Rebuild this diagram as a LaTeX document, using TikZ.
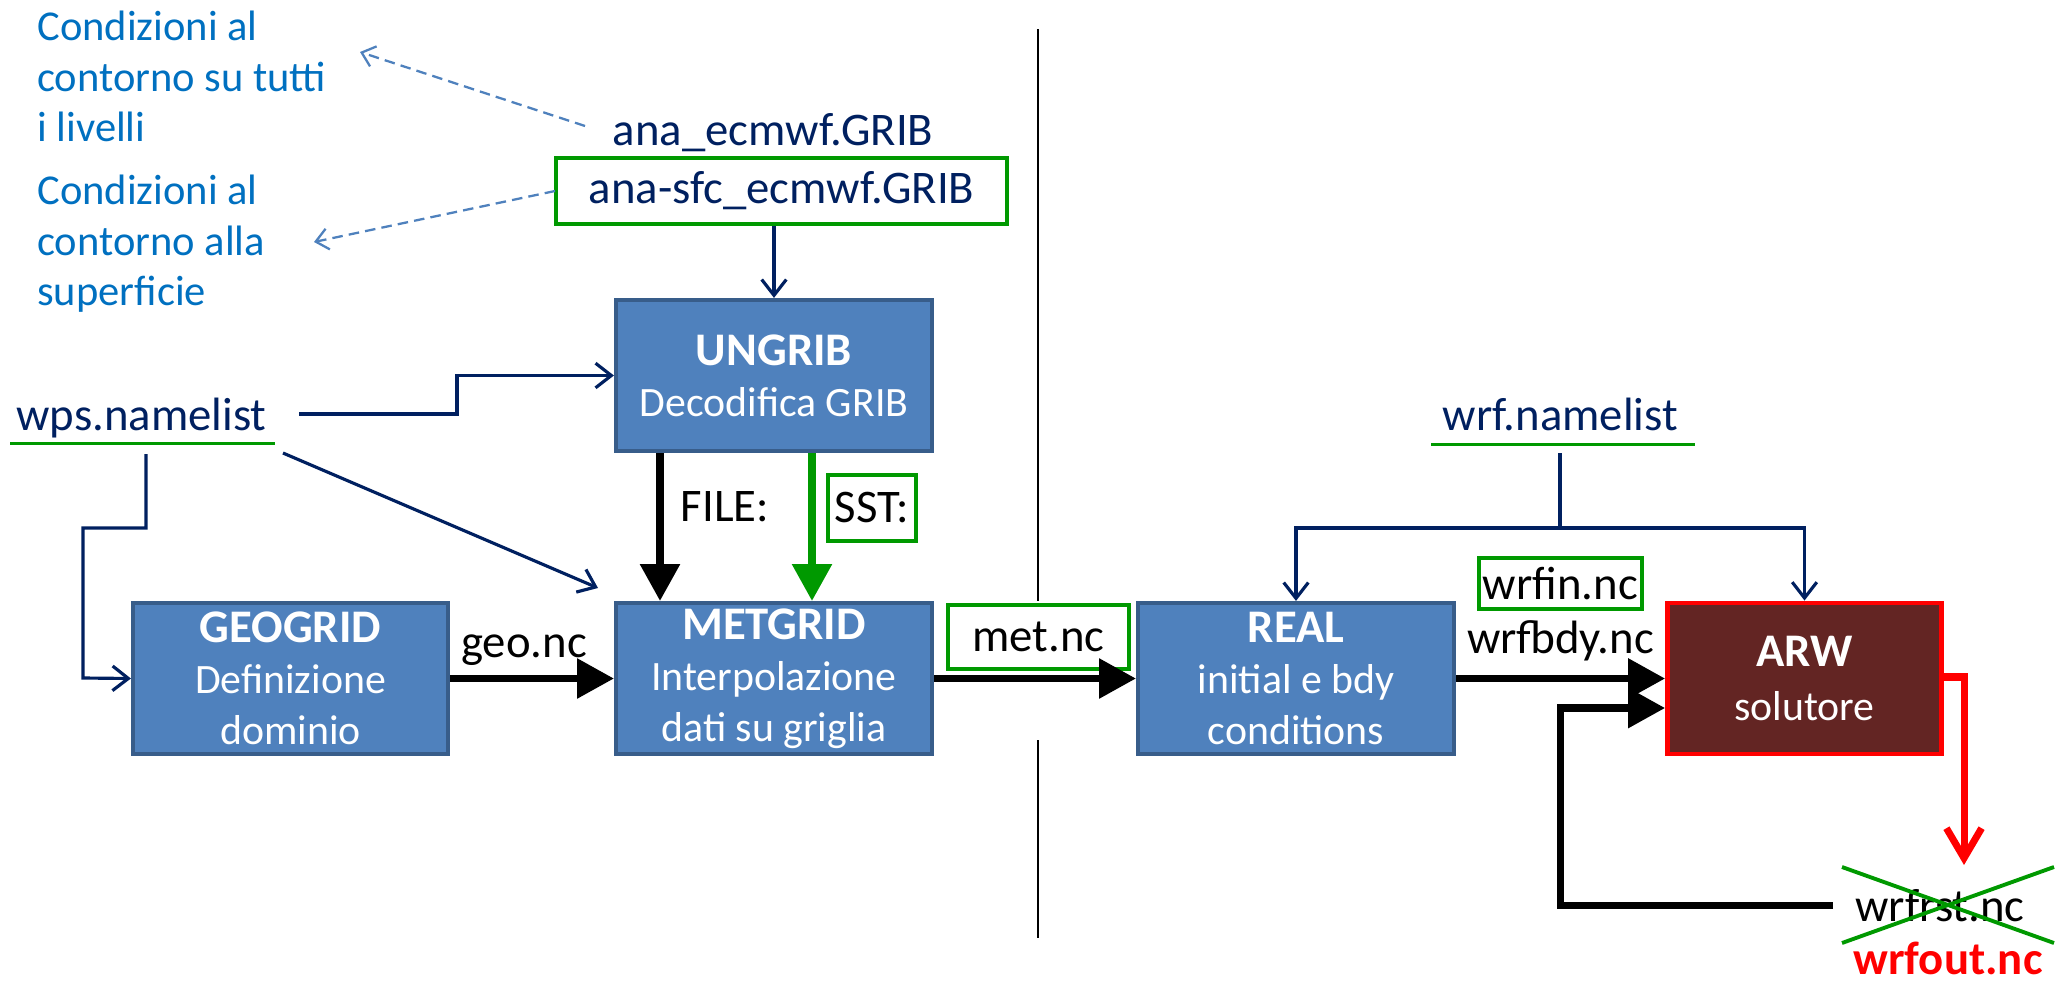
\documentclass[tikz,border=0pt]{standalone}
\usepackage{fontspec}
\setmainfont{Carlito}
\usetikzlibrary{arrows.meta,calc}
\definecolor{navy}{HTML}{002060}
\definecolor{gr}{HTML}{009900}
\definecolor{bluetxt}{HTML}{0070C0}
\definecolor{boxfill}{HTML}{4F81BD}
\definecolor{boxborder}{HTML}{385D8A}
\definecolor{arwfill}{HTML}{632523}
\definecolor{dashblue}{HTML}{4F81BD}
\definecolor{redc}{HTML}{FF0000}
\begin{document}
\begin{tikzpicture}[x=0.02cm,y=-0.02cm,
  box/.style={draw=boxborder, fill=boxfill, line width=2.4pt, text=white, inner sep=0pt, align=center,
    font=\fontsize{23.8}{29}\selectfont, minimum height=3.02cm, minimum width=6.32cm},
  gbox/.style={draw=gr, line width=2.5pt, inner sep=0pt, font=\fontsize{26.6}{32}\selectfont},
  lbl/.style={inner sep=0pt, font=\fontsize{26.6}{32}\selectfont},
  note/.style={inner sep=0pt, anchor=base west, text=bluetxt, font=\fontsize{24.2}{28.6}\selectfont},
  navyarrow/.style={draw=navy, line width=1.8pt, -{Straight Barb[length=9pt,width=14pt]}},
  navyline/.style={draw=navy, line width=1.8pt},
  dasharrow/.style={draw=dashblue, line width=1.3pt, dash pattern=on 6pt off 3.5pt, -{Straight Barb[length=7pt,width=12pt]}},
  fat/.style={line width=4pt, -{Triangle[length=21pt,width=22pt]}},
  uline/.style={draw=gr, line width=1.7pt}
]
\useasboundingbox (0,0) rectangle (2055,984);

% annotations
\node[note] (c1a) at (37,40) {Condizioni al};
\node[note] (c1b) at (37,91) {contorno su tutti};
\node[note] (c1c) at (37,141) {i livelli};
\node[note] (c2a) at (37,204) {Condizioni al};
\node[note] (c2b) at (37,255) {contorno alla};
\node[note] (c2c) at (37,305) {superficie};

% grib files
\node[lbl, anchor=base, text=navy] (ana) at (773,145) {ana\_ecmwf.GRIB};
\node[gbox, text=navy, minimum width=9.02cm, minimum height=1.32cm] (anasfc) at (781.5,191) {ana-sfc\_ecmwf.GRIB};

\coordinate (d1s) at (585,126);
\coordinate (d1e) at (360,52);
\coordinate (d2s) at (555,191);
\coordinate (d2e) at (314,242);
\draw[dasharrow] (d1s) -- (d1e);
\draw[dasharrow] (d2s) -- (d2e);

% boxes
\node[box] (ungrib) at (774,375.5) {{\bfseries\fontsize{26.6}{29}\selectfont UNGRIB}\\Decodifica GRIB};
\node[box, minimum width=6.3cm] (geogrid) at (290.5,678.5) {{\bfseries\fontsize{26.6}{29}\selectfont GEOGRID}\\Definizione\\dominio};
\node[box] (metgrid) at (774,678.5) {{\bfseries\fontsize{26.6}{29}\selectfont METGRID}\\Interpolazione\\dati su griglia};
\node[box] (real) at (1296,678.5) {{\bfseries\fontsize{26.6}{29}\selectfont REAL}\\initial e bdy\\conditions};
\node[box, draw=redc, fill=arwfill, line width=2.8pt, minimum width=5.48cm] (arw) at (1804.5,678.5) {{\bfseries\fontsize{26.6}{29}\selectfont ARW}\\[2pt]solutore};

% namelists
\node[lbl, anchor=base, text=navy] (wps) at (141.5,430) {wps.namelist};
\draw[uline] (10,443) -- (275,443);
\node[lbl, anchor=base, text=navy] (wrf) at (1560.5,430) {wrf.namelist};
\draw[uline] (1431,444) -- (1695,444);

% labels
\node[lbl, anchor=base] (file) at (725,521) {FILE:};
\node[gbox, minimum width=1.76cm, minimum height=1.32cm] (sst) at (872,508) {SST:};
\node[lbl, anchor=base] (geo) at (524,657) {geo.nc};
\node[gbox, minimum width=3.62cm, minimum height=1.28cm] (met) at (1038.5,637) {met.nc};
\node[gbox, minimum width=3.26cm, minimum height=1.02cm] (wrfin) at (1560.5,583.5) {wrfin.nc};
\node[lbl, anchor=base] (wrfbdy) at (1560.5,653) {wrfbdy.nc};
\node[lbl, anchor=base] (wrfrst) at (1940,921) {wrfrst.nc};
\node[lbl, anchor=base, text=redc, font=\fontsize{26.6}{32}\selectfont\bfseries] (wrfout) at (1948,974) {wrfout.nc};

% divider
\draw[line width=1.1pt] (1038,29) -- (1038,601);
\draw[line width=1.1pt] (1038,740) -- (1038,938);

% navy connectors
\draw[navyarrow] (anasfc.south -| ungrib.north) -- (ungrib.north);
\coordinate (wpsR) at (299,414);
\draw[navyarrow] (wpsR) -- (457,414) |- (ungrib.west);
\coordinate (wpsB) at (146,454);
\draw[navyarrow] (wpsB) -- (146,528) -| (83,678) -- (geogrid.west);
\coordinate (wpsD) at (283,453);
\coordinate (metTL) at (598,588);
\draw[navyarrow] (wpsD) -- (metTL);
\coordinate (wrfB) at (1560,453);
\draw[navyline] (wrfB) -- (1560,528);
\draw[navyarrow] (1560,528) -| (real.north);
\draw[navyarrow] (1560,528) -| (arw.north);

% thick arrows
\draw[fat] ($(ungrib.south)+(-114,0)$) -- ($(metgrid.north)+(-114,0)$);
\draw[fat, draw=gr, fill=gr] ($(ungrib.south)+(38,0)$) -- ($(metgrid.north)+(38,0)$);
\draw[fat] (geogrid.east) -- (metgrid.west);
\draw[fat] (metgrid.east) -- (real.west);
\draw[fat] (real.east) -- (arw.west);
\coordinate (loopS) at (1833,905);
\draw[fat] (loopS) -- (1560,905) |- ($(arw.west)+(0,29.5)$);
\draw[line width=4pt, draw=redc, -{Straight Barb[length=17pt,width=20pt]}] ($(arw.east)+(0,-1.5)$) -| (1964,865);

% cross
\draw[draw=gr, line width=2.2pt] (1842,867) -- (2054,943);
\draw[draw=gr, line width=2.2pt] (1842,943) -- (2054,867);
\end{tikzpicture}
\end{document}
